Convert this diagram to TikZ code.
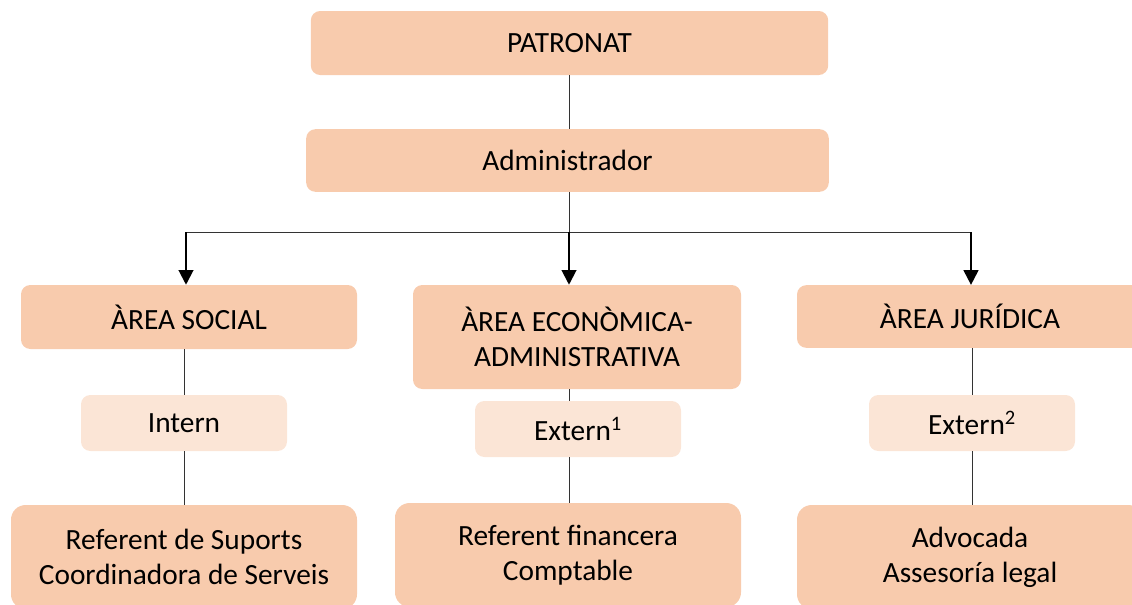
\documentclass[tikz,border=0pt]{standalone}
\usepackage{fontspec}
\setmainfont{Carlito}
\usepackage{tikz}
\usetikzlibrary{arrows.meta,calc}
\definecolor{boxorange}{HTML}{F8CBAD}
\definecolor{boxlight}{HTML}{FBE5D6}

\begin{document}
\begin{tikzpicture}[x=0.75pt,y=-0.75pt,font=\fontsize{22}{26}\selectfont]
  \tikzstyle{box}=[rectangle,rounded corners=7pt,fill=boxorange,align=center,inner sep=0pt]
  \tikzstyle{sub}=[rectangle,rounded corners=7pt,fill=boxlight,minimum width=154.5pt,minimum height=42pt,inner sep=0pt]
  \tikzstyle{conn}=[draw=black!80,line width=0.75pt]
  \tikzstyle{arr}=[-{Triangle[width=11pt,length=11pt]},line width=1.5pt]

  \useasboundingbox (0,0) rectangle (1132,604);

  \node[box,minimum width=388pt,minimum height=48pt] (pat) at (569.5,43) {PATRONAT};
  \node[box,minimum width=392pt,minimum height=47pt] (adm) at (567.5,160.5) {Administrador};

  \node[box,minimum width=252pt,minimum height=48pt] (soc) at (189,317) {ÀREA SOCIAL};
  \node[box,minimum width=246pt,minimum height=78pt] (eco) at (577,337) {ÀREA ECONÒMICA-\\ADMINISTRATIVA};
  \node[box,minimum width=259.5pt,minimum height=47pt] (jur) at (970,316.5) {ÀREA JURÍDICA};

  \node[sub] (int)  at (184,423) {Intern};
  \node[sub] (ext1) at (578,429) {Extern\textsuperscript{1}};
  \node[sub] (ext2) at (972,423) {Extern\textsuperscript{2}};

  \node[box,rounded corners=11pt,minimum width=259.5pt,minimum height=78pt] (refsoc) at (184,557) {Referent de Suports\\Coordinadora de Serveis};
  \node[box,rounded corners=11pt,minimum width=259.5pt,minimum height=78pt] (refeco) at (568,555) {Referent financera\\Comptable};
  \node[box,rounded corners=11pt,minimum width=259.5pt,minimum height=78pt] (advjur) at (970,557) {Advocada\\Assesoría legal};

  \coordinate (split) at (569,232);
  \coordinate (hl) at (186,232);
  \coordinate (hr) at (971,232);

  \draw[conn] (pat.south -| split) -- (adm.north -| split);
  \draw[conn] (adm.south -| split) -- (split);
  \draw[conn] (hl) -- (hr);
  \draw[arr] (hl) -- (hl |- soc.north);
  \draw[arr] (split) -- (split |- eco.north);
  \draw[arr] (hr) -- (hr |- jur.north);

  \draw[conn] (soc.south -| int) -- (int.north);
  \draw[conn] (int.south) -- (refsoc.north -| int);
  \draw[conn] (eco.south -| split) -- (ext1.north -| split);
  \draw[conn] (ext1.south -| split) -- (refeco.north -| split);
  \draw[conn] (jur.south -| ext2) -- (ext2.north);
  \draw[conn] (ext2.south) -- (advjur.north -| ext2);
\end{tikzpicture}
\end{document}
